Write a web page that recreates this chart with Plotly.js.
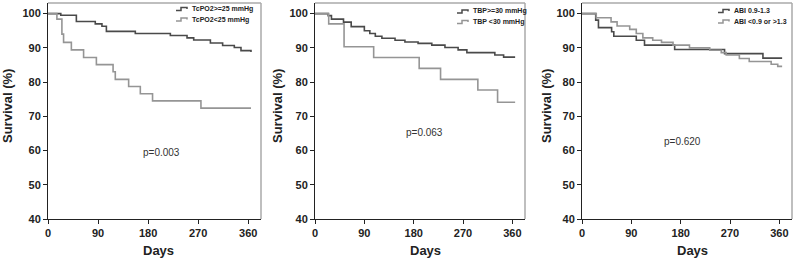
<!DOCTYPE html>
<html><head><meta charset="utf-8">
<script src="https://cdn.plot.ly/plotly-3.0.1.min.js"></script>
<style>html,body{margin:0;padding:0;background:#fff}</style>
</head><body><div id="chart" style="width:793px;height:258px"></div>
<script>
// Panel 1: TcPO2
const tcHighDays = [0, 23, 51, 85, 97, 105, 157, 220, 250, 262, 292, 314, 335, 347, 365];
const tcHighSurv = [100, 99.5, 97.7, 97.0, 96.3, 94.8, 94.2, 93.6, 92.9, 92.3, 91.4, 90.7, 90.1, 89.2, 88.8];
const tcLowDays = [0, 16, 25, 28, 42, 64, 87, 117, 121, 145, 166, 188, 275, 365];
const tcLowSurv = [100, 98.4, 94.0, 91.6, 89.4, 87.2, 85.1, 83.0, 80.8, 78.7, 76.6, 74.5, 72.4, 72.4];
// Panel 2: TBP
const tbpHighDays = [0, 24, 30, 52, 66, 90, 100, 110, 122, 146, 164, 188, 213, 237, 261, 277, 328, 344, 365];
const tbpHighSurv = [100, 99.4, 98.4, 97.5, 96.2, 95.0, 94.2, 93.4, 92.8, 92.2, 91.7, 91.3, 90.8, 90.1, 89.4, 88.6, 87.9, 87.3, 87.3];
const tbpLowDays = [0, 25, 53, 107, 190, 229, 297, 333, 365];
const tbpLowSurv = [100, 97.0, 90.3, 87.2, 84.0, 80.8, 77.7, 74.1, 74.1];
// Panel 3: ABI
const abiNormDays = [0, 25, 30, 54, 58, 99, 114, 169, 260, 330, 365];
const abiNormSurv = [100, 98.1, 95.9, 94.7, 93.4, 92.2, 90.8, 89.5, 88.3, 87.0, 87.0];
const abiAbnDays = [0, 26, 53, 64, 87, 99, 111, 129, 145, 166, 196, 233, 254, 263, 287, 305, 345, 357, 365];
const abiAbnSurv = [100, 98.8, 97.6, 96.4, 95.4, 94.2, 92.9, 92.2, 91.6, 90.8, 90.0, 89.3, 88.6, 87.9, 86.9, 86.0, 85.2, 84.6, 84.6];

const legendLabels = [["TcPO2>=25 mmHg", "TcPO2<25 mmHg"], ["TBP>=30 mmHg", "TBP <30 mmHg"], ["ABI 0.9-1.3", "ABI <0.9 or >1.3"]];
const pValues = ["p=0.003", "p=0.063", "p=0.620"];
const xTicks = [0, 90, 180, 270, 360];
const yTicks = [40, 50, 60, 70, 80, 90, 100];

const W = 793, H = 258;
const px = x => x / W, py = y => 1 - y / H;
const DARK = '#4a4a4a', LIGHT = '#959595';

const series = [
  [tcHighDays, tcHighSurv, tcLowDays, tcLowSurv],
  [tbpHighDays, tbpHighSurv, tbpLowDays, tbpLowSurv],
  [abiNormDays, abiNormSurv, abiAbnDays, abiAbnSurv]
];
const domainsPx = [[48, 261], [315, 525], [582, 792]];
const traces = [];
series.forEach((s, i) => {
  const xa = i === 0 ? 'x' : 'x' + (i + 1), ya = i === 0 ? 'y' : 'y' + (i + 1);
  traces.push({x: s[0], y: s[1], xaxis: xa, yaxis: ya, mode: 'lines', line: {shape: 'hv', color: DARK, width: 1.6}, showlegend: false, hoverinfo: 'skip'});
  traces.push({x: s[2], y: s[3], xaxis: xa, yaxis: ya, mode: 'lines', line: {shape: 'hv', color: LIGHT, width: 1.6}, showlegend: false, hoverinfo: 'skip'});
});

const axFont = {family: 'Liberation Sans, Arial, sans-serif', size: 11, color: '#222', weight: 'bold'};
const layout = {
  width: W, height: H, margin: {l: 0, r: 0, t: 0, b: 0},
  paper_bgcolor: '#fff', plot_bgcolor: '#fff', showlegend: false,
  shapes: [], annotations: []
};
const yDom = [py(219), py(3)];
domainsPx.forEach((d, i) => {
  const n = i === 0 ? '' : String(i + 1);
  layout['xaxis' + n] = {domain: [px(d[0]), px(d[1])], range: [0, 383], anchor: 'y' + n, tickvals: xTicks, ticks: 'outside', ticklen: 4, tickcolor: '#222', showline: true, linecolor: '#222', linewidth: 1, showgrid: false, zeroline: false, tickfont: axFont, fixedrange: true};
  layout['yaxis' + n] = {domain: yDom, range: [40, 103.1], anchor: 'x' + n, tickvals: yTicks, ticks: 'outside', ticklen: 4, tickcolor: '#222', showline: true, linecolor: '#222', linewidth: 1, showgrid: false, zeroline: false, tickfont: axFont, fixedrange: true};
  const xd = 'x' + n + ' domain', yd = 'y' + n + ' domain';
  layout.shapes.push({type: 'line', xref: xd, yref: yd, x0: 0, x1: 1, y0: 1, y1: 1, line: {color: '#aaa', width: 1.5}});
  layout.shapes.push({type: 'line', xref: xd, yref: yd, x0: 1, x1: 1, y0: 0, y1: 1, line: {color: '#aaa', width: 1.5}});
});

// axis titles, p values
const yTitleX = [7, 277, 546];
const daysX = [158, 425, 692];
const pPos = [[161, 152], [424, 132], [682, 141]];
for (let i = 0; i < 3; i++) {
  layout.annotations.push({text: 'Survival (%)', xref: 'paper', yref: 'paper', x: px(yTitleX[i]), y: py(106), textangle: -90, showarrow: false, xanchor: 'center', yanchor: 'middle', font: {family: 'Liberation Sans, Arial, sans-serif', size: 13, color: '#222', weight: 'bold'}});
  layout.annotations.push({text: 'Days', xref: 'paper', yref: 'paper', x: px(daysX[i]), y: py(250), showarrow: false, xanchor: 'center', yanchor: 'middle', font: {family: 'Liberation Sans, Arial, sans-serif', size: 13, color: '#222', weight: 'bold'}});
  layout.annotations.push({text: pValues[i], xref: 'paper', yref: 'paper', x: px(pPos[i][0]), y: py(pPos[i][1]), showarrow: false, xanchor: 'center', yanchor: 'middle', font: {family: 'Liberation Sans, Arial, sans-serif', size: 10, color: '#333'}});
}
// custom legends
const legIconX = [176, 457, 718];
const legRowsY = [[9, 19.5], [11.5, 22], [11, 21.5]];
for (let i = 0; i < 3; i++) {
  [DARK, LIGHT].forEach((c, k) => {
    const x0 = legIconX[i], yy = legRowsY[i][k];
    const path = `M ${px(x0)} ${py(yy + 1.5)} L ${px(x0 + 5)} ${py(yy + 1.5)} L ${px(x0 + 5)} ${py(yy - 1.5)} L ${px(x0 + 11)} ${py(yy - 1.5)} L ${px(x0 + 11)} ${py(yy)}`;
    layout.shapes.push({type: 'path', xref: 'paper', yref: 'paper', path: path, line: {color: c, width: 1.5}});
    layout.annotations.push({text: legendLabels[i][k], xref: 'paper', yref: 'paper', x: px(x0 + 14), y: py(yy), showarrow: false, xanchor: 'left', yanchor: 'middle', font: {family: 'Liberation Sans, Arial, sans-serif', size: 7, color: '#222', weight: 'bold'}});
  });
}
Plotly.newPlot('chart', traces, layout, {displayModeBar: false, staticPlot: true});
</script></body></html>
